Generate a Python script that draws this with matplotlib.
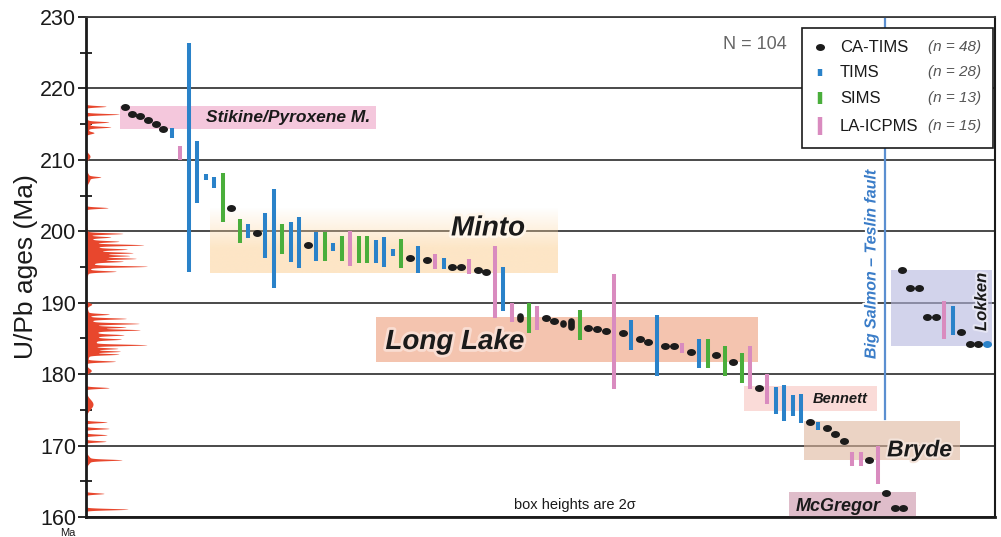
import numpy as np
import matplotlib.pyplot as plt
from matplotlib.patches import Rectangle
from matplotlib.markers import MarkerStyle
from matplotlib.transforms import Affine2D
import matplotlib.patheffects as pe

plt.rcParams['font.family'] = ['Liberation Sans', 'DejaVu Sans']

# method colours and legend names
COLORS = {'C': '#1c1c1c', 'T': '#2a82c9', 'S': '#4aae3b', 'L': '#d98bbf'}
NAMES = {'C': 'CA-TIMS', 'T': 'TIMS', 'S': 'SIMS', 'L': 'LA-ICPMS'}

# Stikine / Pyroxene Mountain CA-TIMS dates (own spacing)
stikine_x = [-5.45, -4.65, -3.7, -2.8, -1.8, -0.95]
stikine_age = [217.4, 216.4, 216.2, 215.6, 215.0, 214.3]

# main sequence, one slot per sample: method, lower / upper 2-sigma age
main_method = ['T', 'L', 'T', 'T', 'T', 'T', 'S', 'C', 'S', 'T',
               'C', 'T', 'T', 'S', 'T', 'T', 'C', 'T', 'S', 'T',
               'S', 'L', 'S', 'S', 'T', 'T', 'T', 'S', 'C', 'T',
               'C', 'L', 'T', 'C', 'C', 'L', 'C', 'C', 'L', 'T',
               'L', 'C', 'S', 'L', 'C', 'C', 'C', 'C', 'S', 'C',
               'C', 'C', 'L', 'C', 'T', 'C', 'C', 'T', 'C', 'C',
               'L', 'C', 'T', 'S', 'C', 'S', 'C', 'S', 'L', 'C',
               'L', 'T', 'T', 'T', 'T', 'C', 'T', 'C', 'C', 'C',
               'L', 'L', 'C', 'L', 'C', 'C', 'C']
main_lo = [213.1, 210.0, 194.3, 203.9, 207.2, 206.0, 201.3, 203.2, 198.3, 199.0,
           199.8, 196.2, 192.1, 196.8, 195.7, 194.8, 198.1, 195.8, 195.8, 197.2,
           195.9, 195.1, 195.6, 195.6, 195.5, 195.0, 196.5, 194.9, 196.3, 194.2,
           196.0, 194.7, 194.7, 195.0, 195.0, 194.0, 194.6, 194.3, 187.8, 188.8,
           187.3, 187.4, 185.8, 186.2, 187.8, 187.4, 186.8, 186.3, 184.8, 186.4,
           186.3, 186.1, 177.9, 185.8, 183.4, 184.9, 184.5, 179.7, 184.0, 184.0,
           183.0, 183.1, 180.8, 180.8, 182.7, 179.8, 181.7, 178.8, 177.9, 178.1,
           175.8, 174.4, 173.5, 174.1, 173.2, 173.3, 172.2, 172.4, 171.6, 170.6,
           167.1, 167.1, 168.0, 164.6, 163.3, 161.2, 161.2]
main_hi = [214.4, 212.0, 226.3, 212.6, 208.0, 207.6, 208.1, 203.2, 201.7, 201.0,
           199.8, 202.5, 205.9, 201.0, 201.3, 202.0, 198.1, 199.9, 199.9, 198.4,
           199.4, 200.0, 199.3, 199.3, 198.8, 199.2, 197.5, 198.9, 196.3, 197.9,
           196.0, 196.8, 196.2, 195.0, 195.0, 196.1, 194.6, 194.3, 198.0, 195.0,
           189.9, 188.5, 189.9, 189.6, 187.8, 187.4, 187.4, 187.8, 189.0, 186.4,
           186.3, 186.1, 194.0, 185.8, 187.6, 184.9, 184.5, 188.3, 184.0, 184.0,
           184.4, 183.1, 184.9, 184.9, 182.7, 183.9, 181.7, 182.9, 183.9, 178.1,
           180.0, 178.2, 178.5, 177.1, 177.2, 173.3, 173.3, 172.4, 171.6, 170.6,
           169.1, 169.1, 168.0, 169.9, 163.3, 161.2, 161.2]

# Lokken samples, west of the fault
lokken_start = 85.8
lokken_method = ['C', 'C', 'C', 'C', 'C', 'L', 'T', 'C', 'C', 'C', 'T']
lokken_lo = [194.6, 192.0, 192.0, 188.0, 188.0, 184.9, 185.5, 185.9, 184.2, 184.2, 184.2]
lokken_hi = [194.6, 192.0, 192.0, 188.0, 188.0, 190.3, 189.6, 185.9, 184.2, 184.2, 184.2]

# probability density peaks on the age axis: age, relative height, width (Ma)
pdp_age = [217.5, 216.4, 215.3, 214.6, 213.8, 214.8, 210.5, 207.6, 207.4, 203.3,
           199.7, 199.2, 198.6, 198.1, 197.5, 197.0, 196.6, 196.2, 195.8, 195.1,
           194.4, 197.0, 189.8, 188.4, 187.8, 187.1, 186.6, 186.2, 185.5, 184.9,
           184.1, 183.6, 183.2, 182.8, 181.8, 185.5, 180.5, 178.1, 175.8, 173.3,
           172.4, 171.5, 170.6, 168.0, 168.0, 163.3, 161.1]
pdp_height = [20, 33, 20, 21, 7, 4, 4, 11, 4, 22,
              34, 20, 25, 47, 28, 33, 30, 38, 27, 55,
              27, 14, 5, 20, 35, 45, 30, 43, 26, 24,
              52, 25, 29, 29, 28, 12, 5, 23, 7, 21,
              23, 21, 20, 31, 5, 18, 42]
pdp_width = [.1, .1, .1, .1, .15, .6, .4, .1, .6, .1,
             .1, .1, .1, .1, .1, .1, .1, .1, .1, .1,
             .1, 1.5, .2, .1, .1, .1, .1, .1, .1, .1,
             .1, .1, .1, .1, .1, 1.8, .3, .1, .7, .1,
             .1, .1, .1, .1, .5, .1, .1]

# labelled sample groups: name, x-range (slots), age range, colour
group_name = ['Stikine', 'Minto', 'Long Lake', 'Bennett', 'Bryde', 'McGregor', 'Lokken']
group_x = [(-6.05, 24.0), (4.5, 45.3), (24.0, 68.9), (67.3, 82.9), (74.3, 92.65), (72.6, 87.5), (84.6, 96.4)]
group_age = [(214.3, 217.5), (194.1, 203.3), (181.7, 188.0), (174.9, 178.3), (168.0, 173.4), (160.0, 163.5), (183.9, 194.6)]
group_color = ['#eea2c6', '#fcd5a0', '#ee9e7b', '#f8c3be', '#deb69d', '#ca91a8', '#b4b6df']

fault_x = 83.84
fault_base = 173.7

fig = plt.figure(figsize=(10.01, 5.37), dpi=100)
ax = fig.add_axes([0.0859, 0.0372, 0.9081, 0.9311])

# group boxes (Minto fades out towards the top)
for name, (x0, x1), (a0, a1), c in zip(group_name, group_x, group_age, group_color):
    if name == 'Minto':
        grad = np.zeros((100, 1, 4))
        grad[:, 0, :3] = np.array([252, 213, 160]) / 255
        grad[:, 0, 3] = np.clip(np.linspace(0, 1.6, 100), 0, 1) * 0.6
        ax.imshow(grad, extent=(x0, x1, a0, a1), aspect='auto', zorder=1,
                  interpolation='bilinear')
    else:
        ax.add_patch(Rectangle((x0, a0), x1 - x0, a1 - a0, facecolor=c, alpha=0.6,
                               lw=0, zorder=1))

# probability density curve along the age axis
ages = np.linspace(160, 230, 7001)
dens = np.zeros_like(ages)
for a, h, w in zip(pdp_age, pdp_height, pdp_width):
    dens += h * np.exp(-0.5 * ((ages - a) / w) ** 2)
xleft = -10.05
ax.fill_betweenx(ages, xleft, xleft + dens / 8.51, color='#e8472d', lw=0, zorder=2)

# fault trace
ax.plot([fault_x, fault_x], [fault_base, 230], color='#5b8fd0', lw=1.6, zorder=2)

DOT = MarkerStyle('o', transform=Affine2D().scale(1.3, 1.0))


def draw_samples(xs, methods, lo, hi):
    for x, m, a0, a1 in zip(xs, methods, lo, hi):
        c = COLORS[m]
        if a1 - a0 < 0.05:
            ax.plot(x, (a0 + a1) / 2, ls='none', marker=DOT, ms=5, mew=0, color=c, zorder=5)
        elif m == 'C':
            ax.plot([x, x], [a0 + 0.35, a1 - 0.35], color=c, lw=4.8, solid_capstyle='round', zorder=5)
        else:
            ax.plot([x, x], [a0, a1], color=c, lw=2.9, solid_capstyle='butt', zorder=4)


draw_samples(stikine_x, ['C'] * len(stikine_age), stikine_age, stikine_age)
draw_samples(np.arange(len(main_method)), main_method, main_lo, main_hi)
draw_samples(lokken_start + np.arange(len(lokken_method)), lokken_method, lokken_lo, lokken_hi)

# group labels
bi = dict(fontweight='bold', style='italic', color='#1a1a1a', ha='center', va='center', zorder=7)
ax.text(13.7, 216.0, 'Stikine/Pyroxene M.', fontsize=12.5, **bi)
ax.text(37.2, 200.4, 'Minto', fontsize=20,
        path_effects=[pe.withStroke(linewidth=4, foreground='#fff6ea')], **bi)
ax.text(33.3, 184.5, 'Long Lake', fontsize=20,
        path_effects=[pe.withStroke(linewidth=4, foreground='#f9ddd2')], **bi)
ax.text(78.6, 176.5, 'Bennett', fontsize=10.6, **bi)
ax.text(87.9, 169.4, 'Bryde', fontsize=16.5,
        path_effects=[pe.withStroke(linewidth=3, foreground='#f3e3da')], **bi)
ax.text(78.4, 161.5, 'McGregor', fontsize=13, **bi)
ax.text(95.2, 190.1, 'Lokken', fontsize=12, rotation=90,
        path_effects=[pe.withStroke(linewidth=3, foreground='#e6e6f4')], **bi)
ax.text(82.2, 195.4, 'Big Salmon \u2013 Teslin fault', fontsize=11.5, rotation=90,
        fontweight='bold', style='italic', color='#3b7dc8', ha='center', va='center',
        path_effects=[pe.withStroke(linewidth=3, foreground='white')], zorder=7)

n_total = len(stikine_age) + len(main_method) + len(lokken_method)
ax.text(68.6, 226.1, f'N = {n_total}', fontsize=13, color='#666666', ha='center', va='center')
ax.text(47.4, 161.7, 'box heights are 2\u03c3', fontsize=10.5, color='#1a1a1a',
        ha='center', va='center')

# legend box with counts per method
all_methods = ['C'] * len(stikine_age) + main_method + lokken_method
ax.add_patch(Rectangle((0.7877, 0.738), 0.21, 0.240, transform=ax.transAxes,
                       facecolor='white', edgecolor='#1a1a1a', lw=1.2, zorder=8))
leg_y = [0.940, 0.890, 0.838, 0.782]
leg_bar = {'T': 0.014, 'S': 0.024, 'L': 0.036}
for m, yy in zip(['C', 'T', 'S', 'L'], leg_y):
    if m == 'C':
        ax.plot(0.808, yy, marker=DOT, ms=5, mew=0, color=COLORS[m], transform=ax.transAxes,
                clip_on=False, zorder=9)
    else:
        h = leg_bar[m] / 2
        ax.plot([0.808, 0.808], [yy - h, yy + h], color=COLORS[m], lw=3.2,
                transform=ax.transAxes, clip_on=False, zorder=9, solid_capstyle='butt')
    ax.text(0.8295, yy, NAMES[m], fontsize=12, color='#1a1a1a', va='center',
            transform=ax.transAxes, zorder=9)
    ax.text(0.9845, yy, f'(n = {all_methods.count(m)})', fontsize=11, style='italic',
            color='#555555', va='center', ha='right', transform=ax.transAxes, zorder=9)

# axes styling
ax.set_xlim(-10.05, 96.77)
ax.set_ylim(160, 230)
ax.set_yticks(np.arange(160, 231, 10))
ax.set_yticks(np.arange(165, 230, 10), minor=True)
ax.set_xticks([])
ax.tick_params(axis='y', which='major', direction='out', length=6, width=1.3,
               labelsize=15.5, pad=1, colors='#1a1a1a')
ax.tick_params(axis='y', which='minor', direction='inout', length=8, width=1.3, colors='#1a1a1a')
ax.set_axisbelow(True)
ax.grid(axis='y', which='major', color='#3c3c3c', lw=1.3, zorder=0)
for side in ['left', 'bottom']:
    ax.spines[side].set_linewidth(2)
    ax.spines[side].set_color('#1a1a1a')
ax.spines['right'].set_linewidth(1.5)
ax.spines['right'].set_color('#1a1a1a')
ax.spines['top'].set_linewidth(1.3)
ax.spines['top'].set_color('#3c3c3c')
ax.set_ylabel('U/Pb ages (Ma)', fontsize=19, color='#1a1a1a')
ax.yaxis.set_label_coords(-0.053, 0.5)
fig.text(0.068, 0.0075, 'Ma', fontsize=8, ha='center', va='center', color='#1a1a1a')

fig.savefig('out.png', dpi=100)
